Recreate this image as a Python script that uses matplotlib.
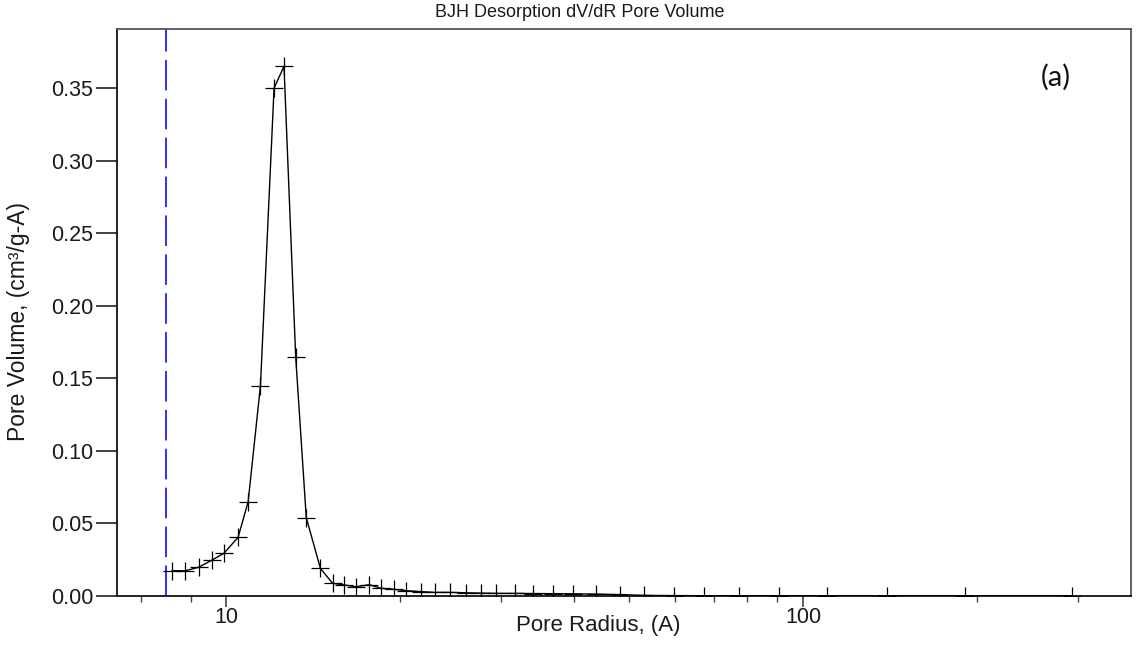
import matplotlib
matplotlib.use("Agg")
import matplotlib.pyplot as plt
from matplotlib.ticker import FixedLocator, NullFormatter, FixedFormatter

plt.rcParams['font.family'] = ['Liberation Sans', 'DejaVu Sans']
plt.rcParams['lines.scale_dashes'] = False

# BJH desorption pore-size distribution
pore_radius = [8.06, 8.50, 8.96, 9.46, 9.91, 10.49, 10.92, 11.47, 12.11, 12.60,
               13.20, 13.77, 14.57, 15.29, 16.02, 16.79, 17.71, 18.55, 19.57,
               20.50, 21.77, 22.97, 24.40, 26.08, 27.70, 29.40, 31.64, 34.06,
               36.90, 39.97, 43.83, 48.19, 52.90, 59.68, 67.29, 77.41, 90.85,
               110.1, 140.0, 190.5, 292.5]
dv_dr = [0.0174, 0.0174, 0.0198, 0.0248, 0.0294, 0.0404, 0.065, 0.145, 0.350, 0.365,
         0.165, 0.054, 0.019, 0.0088, 0.0076, 0.0064, 0.0078, 0.0053, 0.0046,
         0.0037, 0.0030, 0.0025, 0.0025, 0.0022, 0.0020, 0.0018, 0.0018, 0.0017,
         0.0016, 0.0015, 0.0013, 0.0010, 0.0004, 0.0003, 0.0002, 0.0002, 0.0002,
         0.0001, 0.0001, 0.0001, 0.0001]

cutoff_radius = 7.87
y_ticks = [0.00, 0.05, 0.10, 0.15, 0.20, 0.25, 0.30, 0.35]
y_tick_labels = ["0.00", "0.05", "0.10", "0.15", "0.20", "0.25", "0.30", "0.35"]
x_major = [10, 100]
x_major_labels = ["10", "100"]
x_minor = [7.13, 8.70, 20, 30, 40, 50, 60, 70, 80, 90, 200, 300]

fig = plt.figure(figsize=(11.39, 6.46), dpi=100)
ax = fig.add_axes([0.1027, 0.0774, 0.8903, 0.8777])

ax.plot(pore_radius, dv_dr, color='black', lw=1.0, marker='+',
        markersize=13, markeredgewidth=0.9, zorder=3)
ax.axvline(cutoff_radius, color='#2020ff', lw=1.3, dashes=(22, 6), zorder=2)

ax.set_xscale('log')
ax.set_xlim(6.47, 370)
ax.set_ylim(0, 0.3907)

ax.xaxis.set_major_locator(FixedLocator(x_major))
ax.xaxis.set_major_formatter(FixedFormatter(x_major_labels))
ax.xaxis.set_minor_locator(FixedLocator(x_minor))
ax.xaxis.set_minor_formatter(NullFormatter())
ax.set_yticks(y_ticks)
ax.set_yticklabels(y_tick_labels)

ax.tick_params(axis='y', which='major', length=15, width=1.2, color='#222222',
               labelsize=15.5, pad=2, labelcolor='#1a1a1a')
ax.tick_params(axis='x', which='major', length=8, width=1.2, color='#444444',
               labelsize=15.5, pad=0, labelcolor='#1a1a1a')
ax.tick_params(axis='x', which='minor', length=4, width=1.0, color='#444444')

for side in ['left', 'bottom']:
    ax.spines[side].set_color('#111111')
    ax.spines[side].set_linewidth(1.3)
for side in ['top', 'right']:
    ax.spines[side].set_color('#555555')
    ax.spines[side].set_linewidth(1.3)

fig.text(0.525, 0.031, "Pore Radius, (A)", ha='center', va='center',
         fontsize=16, color='#1a1a1a')
fig.text(0.0165, 0.503, "Pore Volume, (cm³/g-A)", ha='center', va='center',
         rotation=90, fontsize=16.5, color='#1a1a1a')

fig.text(0.509, 0.981, "BJH Desorption dV/dR Pore Volume", ha='center', va='center',
         fontsize=13, color='#1a1a1a')
ax.text(0.926, 0.915, "(a)", transform=ax.transAxes, ha='center', va='center',
        fontsize=21, family=['Lato', 'DejaVu Sans'], color='#111111')

fig.savefig("out.png", dpi=100)
